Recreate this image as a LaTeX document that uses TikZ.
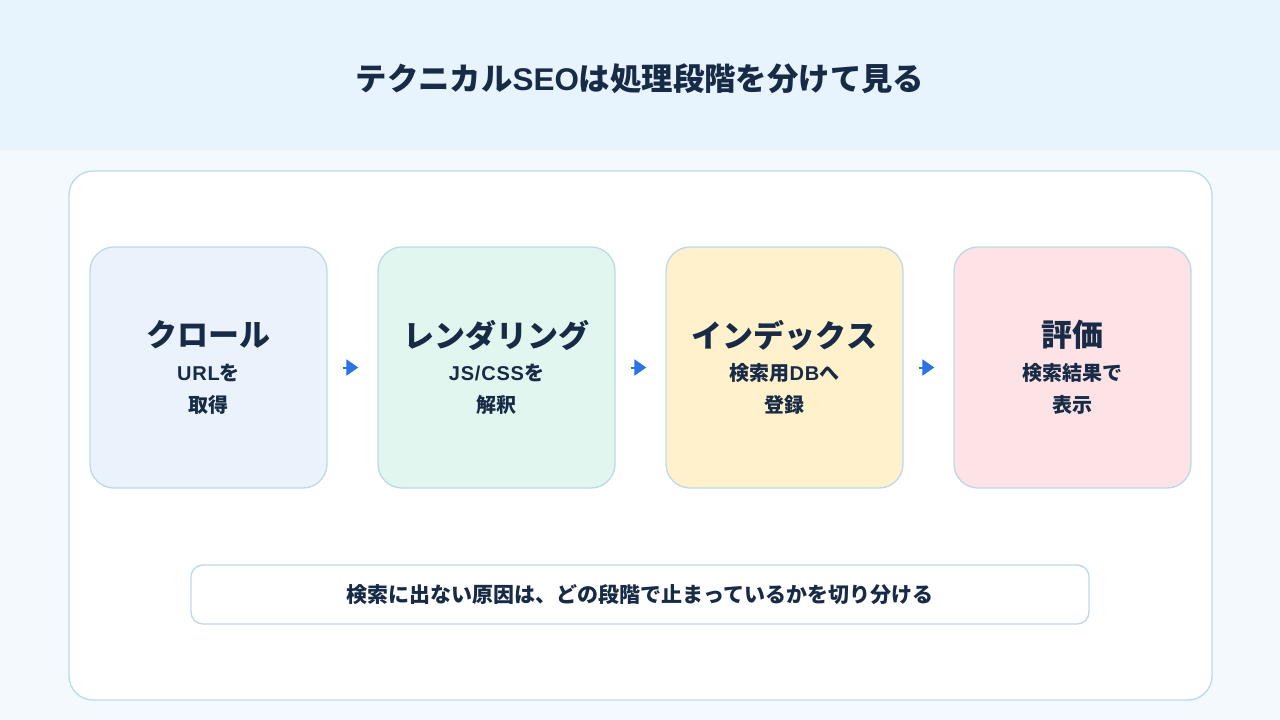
\documentclass[tikz,border=0pt]{standalone}
\usepackage{fontspec}
\setmainfont{Noto Sans CJK JP}
\newfontfamily\lat{Liberation Sans}[LetterSpace=4]
\newfontfamily\latt{Liberation Sans}
\usetikzlibrary{arrows.meta,calc}
\definecolor{hdr}{HTML}{E8F4FD}
\definecolor{bgc}{HTML}{F4F9FD}
\definecolor{bord}{HTML}{BCD9EA}
\definecolor{ink}{HTML}{172A46}
\definecolor{arr}{HTML}{2B74E2}
\definecolor{cblue}{HTML}{EAF3FC}
\definecolor{cgreen}{HTML}{E0F6EF}
\definecolor{cyellow}{HTML}{FEF1CC}
\definecolor{cpink}{HTML}{FDE2E6}
\tikzset{
  stagebox/.style={draw=bord, line width=1.3pt, rounded corners=24pt, minimum width=237pt, minimum height=241pt, inner sep=0pt},
  stagetitle/.style={text=ink, font=\fontsize{31}{33}\selectfont\bfseries, inner sep=0pt},
  stagesub/.style={text=ink, font=\fontsize{20}{22}\selectfont\bfseries, inner sep=0pt},
  flow/.style={draw=arr, fill=arr, line width=2pt, -{Triangle[length=12pt,width=16pt]}},
}
\begin{document}
\begin{tikzpicture}[x=1pt,y=-1pt]
\useasboundingbox (0,0) rectangle (1280,720);
\fill[bgc] (0,0) rectangle (1280,720);
\fill[hdr] (0,0) rectangle (1280,150);
\node[text=ink, font=\fontsize{31.4}{34}\selectfont\bfseries, inner sep=0pt] (title) at (640,79) {テクニカル{\latt SEO}は処理段階を分けて見る};
\node[draw=bord, fill=white, line width=1.3pt, rounded corners=24pt, minimum width=1143pt, minimum height=529pt] (panel) at (640.5,435.5) {};
\node[stagebox, fill=cblue] (b1) at (208.5,367.5) {};
\node[stagebox, fill=cgreen] (b2) at (496.5,367.5) {};
\node[stagebox, fill=cyellow] (b3) at (784.5,367.5) {};
\node[stagebox, fill=cpink] (b4) at (1072.5,367.5) {};
\foreach \b/\t/\sa/\sb in {b1/クロール/{{\lat URL}を}/取得, b2/レンダリング/{{\lat JS/CSS}を}/解釈, b3/インデックス/{検索用{\lat DB}へ}/登録, b4/評価/検索結果で/表示}{
  \node[stagetitle] (\b t) at ($(\b.center)+(0,-32.5)$) {\t};
  \node[stagesub] (\b s1) at ($(\b.center)+(0,5.5)$) {\sa};
  \node[stagesub] (\b s2) at ($(\b.center)+(0,37.5)$) {\sb};
}
\draw[flow] ($(b1.east)+(15,0)$) -- ($(b2.west)+(-19,0)$);
\draw[flow] ($(b2.east)+(15,0)$) -- ($(b3.west)+(-19,0)$);
\draw[flow] ($(b3.east)+(15,0)$) -- ($(b4.west)+(-19,0)$);
\node[draw=bord, fill=white, line width=1.3pt, rounded corners=12pt, minimum width=898pt, minimum height=59pt, text=ink, font=\fontsize{21}{23}\selectfont\bfseries] (note) at (640,594.5) {検索に出ない原因は、どの段階で止まっているかを切り分ける};
\end{tikzpicture}
\end{document}
